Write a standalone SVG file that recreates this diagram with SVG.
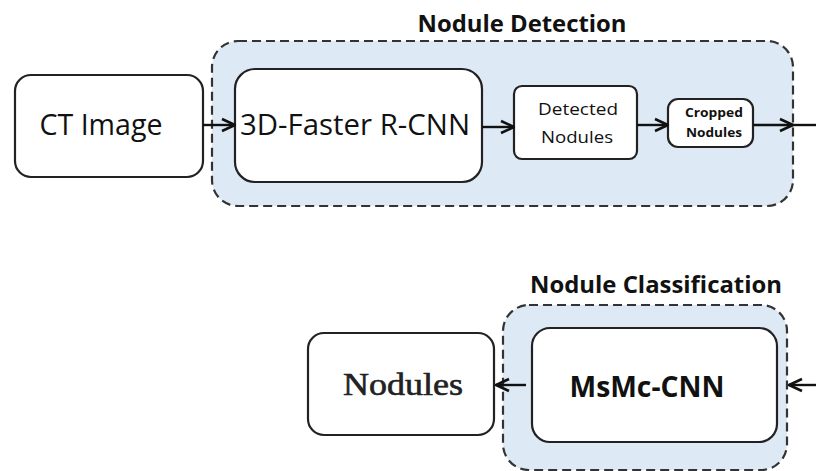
<svg xmlns="http://www.w3.org/2000/svg" width="816" height="471" viewBox="0 0 816 471">
<defs>
<marker id="ah" viewBox="0 0 16 16" refX="15" refY="8" markerWidth="16" markerHeight="16" markerUnits="userSpaceOnUse" orient="auto">
<path d="M2,2 L15,8 L2,14" fill="none" stroke="#111" stroke-width="2.6"/>
</marker>
<style>
.grp{fill:#dde9f5;stroke:#333;stroke-width:2.2;stroke-dasharray:9 5}
.box{fill:#fff;stroke:#222;stroke-width:2.2}
.t{font-family:"Open Sans","Liberation Sans",sans-serif;fill:#111;text-anchor:middle}
.b{font-weight:bold}
.c{fill:none;stroke:#111;stroke-width:2.4}
</style>
</defs>
<rect width="816" height="471" fill="#fff"/>
<g id="nodule-detection">
<rect class="grp" x="212" y="41" width="581" height="165" rx="26"/>
<text class="t b" x="522" y="32" font-size="24" textLength="209" lengthAdjust="spacingAndGlyphs">Nodule Detection</text>
</g>
<g id="nodule-classification">
<rect class="grp" x="503" y="305" width="284" height="165" rx="26"/>
<text class="t b" x="656" y="293" font-size="24" textLength="252" lengthAdjust="spacingAndGlyphs">Nodule Classification</text>
</g>
<g id="ct-image">
<rect class="box" x="15" y="75" width="188" height="102" rx="16"/>
<text class="t" x="101" y="135" font-size="29" textLength="123" lengthAdjust="spacingAndGlyphs">CT Image</text>
</g>
<g id="faster-rcnn">
<rect class="box" x="235" y="69" width="247" height="113" rx="20"/>
<text class="t" x="355" y="135" font-size="29" textLength="230" lengthAdjust="spacingAndGlyphs">3D-Faster R-CNN</text>
</g>
<g id="detected-nodules">
<rect class="box" x="514" y="86" width="123" height="73" rx="8"/>
<text class="t" x="578" y="115" font-size="17" fill="#333" textLength="80" lengthAdjust="spacingAndGlyphs">Detected</text>
<text class="t" x="577" y="143" font-size="17" fill="#333" textLength="72" lengthAdjust="spacingAndGlyphs">Nodules</text>
</g>
<g id="cropped-nodules">
<rect class="box" x="668" y="99" width="85" height="48" rx="10"/>
<text class="t b" x="714" y="117" font-size="12" fill="#333" textLength="58" lengthAdjust="spacingAndGlyphs">Cropped</text>
<text class="t b" x="714" y="137" font-size="12" fill="#333" textLength="56" lengthAdjust="spacingAndGlyphs">Nodules</text>
</g>
<g id="msmc-cnn">
<rect class="box" x="532" y="328" width="245" height="114" rx="18"/>
<text class="t b" x="647" y="397" font-size="28" textLength="155" lengthAdjust="spacingAndGlyphs">MsMc-CNN</text>
</g>
<g id="nodules">
<rect class="box" x="308" y="333" width="186" height="102" rx="16"/>
<text x="403" y="395" font-size="31" font-family="'Liberation Serif','DejaVu Serif',serif" fill="#222" stroke="#222" stroke-width="0.6" text-anchor="middle" textLength="120" lengthAdjust="spacingAndGlyphs">Nodules</text>
</g>
<g id="connectors">
<line class="c" x1="203" y1="125" x2="235" y2="125" marker-end="url(#ah)"/>
<line class="c" x1="482" y1="127" x2="514" y2="127" marker-end="url(#ah)"/>
<line class="c" x1="637" y1="125" x2="668" y2="125" marker-end="url(#ah)"/>
<line class="c" x1="753" y1="125" x2="793" y2="125" marker-end="url(#ah)"/>
<line class="c" x1="793" y1="125" x2="816" y2="125"/>
<line class="c" x1="526" y1="385" x2="496" y2="385" marker-end="url(#ah)"/>
<line class="c" x1="816" y1="385" x2="789" y2="385" marker-end="url(#ah)"/>
</g>
</svg>
